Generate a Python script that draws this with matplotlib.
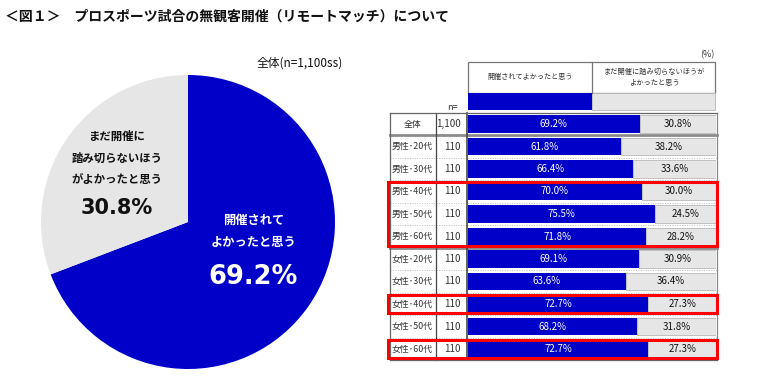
import matplotlib.pyplot as plt
from matplotlib.patches import Rectangle

plt.rcParams['font.family'] = ['Noto Sans CJK JP', 'DejaVu Sans']

# ---- data ----
title = '＜図１＞　プロスポーツ試合の無観客開催（リモートマッチ）について'
pie_title = '全体(n=1,100ss)'
answers = ['開催されて\nよかったと思う', 'まだ開催に\n踏み切らないほう\nがよかったと思う']
header_labels = ['開催されてよかったと思う', 'まだ開催に踏み切らないほうが\nよかったと思う']
pie_values = [69.2, 30.8]

groups = ['全体', '男性･20代', '男性･30代', '男性･40代', '男性･50代', '男性･60代',
          '女性･20代', '女性･30代', '女性･40代', '女性･50代', '女性･60代']
n_values = ['1,100', '110', '110', '110', '110', '110', '110', '110', '110', '110', '110']
yes_pct = [69.2, 61.8, 66.4, 70.0, 75.5, 71.8, 69.1, 63.6, 72.7, 68.2, 72.7]
no_pct = [30.8, 38.2, 33.6, 30.0, 24.5, 28.2, 30.9, 36.4, 27.3, 31.8, 27.3]
highlight = [(3, 5), (8, 8), (10, 10)]   # row ranges framed in red
separators = [0, 5]                        # thick line after these rows

BLUE = '#0000C8'
GREY = '#E6E6E6'
W, H = 760, 382


def px(x0, y0, x1, y1):
    # pixel box (top-left origin) -> figure fraction rect
    return [x0 / W, 1 - y1 / H, (x1 - x0) / W, (y1 - y0) / H]


fig = plt.figure(figsize=(7.6, 3.82), dpi=100)

# ==========================
# pie
# ==========================
axp = fig.add_axes(px(41, 75, 335, 369))
axp.pie(pie_values, colors=[BLUE, GREY], startangle=90, counterclock=False,
        wedgeprops=dict(linewidth=0))
axp.set_xlim(-1, 1)
axp.set_ylim(-1, 1)
axp.set_aspect('equal')

# ==========================
# bar table
# ==========================
BX0, BX1 = 468, 716


def fx(p):
    # pixel x -> bar axes fraction
    return (p - BX0) / (BX1 - BX0)


axb = fig.add_axes(px(BX0, 112.75, BX1, 360.25))
rows = list(range(len(groups)))
axb.barh(rows, yes_pct, height=0.76, color=BLUE, linewidth=0)
axb.barh(rows, no_pct, left=yes_pct, height=0.76, color=GREY,
         edgecolor='#B8B8B8', linewidth=0.6)
axb.set_xlim(0, 100)
axb.set_ylim(len(groups) - 0.5, -0.5)
axb.axis('off')

tr = axb.get_yaxis_transform()
for i in rows:
    axb.text(yes_pct[i] / 2, i, f'{yes_pct[i]:.1f}%', color='white',
             ha='center', va='center', fontsize=7)
    axb.text(yes_pct[i] + no_pct[i] / 2, i, f'{no_pct[i]:.1f}%', color='#111111',
             ha='center', va='center', fontsize=7)
    axb.text(fx(412.5), i, groups[i], transform=tr, ha='center', va='center',
             fontsize=6.4, color='#333333')
    axb.text(fx(461), i, n_values[i], transform=tr, ha='right', va='center',
             fontsize=7, color='#333333')

# row lines
for i in rows[:-1]:
    if i in separators:
        axb.plot([fx(390), fx(717)], [i + 0.5, i + 0.5], transform=tr,
                 color='#8C8C8C', lw=2, clip_on=False)
    else:
        axb.plot([fx(390), fx(717)], [i + 0.5, i + 0.5], transform=tr,
                 color='#BBBBBB', lw=0.7, ls=(0, (1, 1.5)), clip_on=False)

top, bot = -0.5, len(groups) - 0.5
for xpix, lw, c in [(390, 0.9, '#666666'), (436, 0.9, '#444444'),
                    (467, 1.2, '#444444'), (717, 0.9, '#888888')]:
    axb.plot([fx(xpix), fx(xpix)], [top, bot], transform=tr, color=c, lw=lw,
             clip_on=False)
axb.plot([fx(390), fx(717)], [top, top], transform=tr, color='#666666', lw=0.9,
         clip_on=False)
axb.plot([fx(390), fx(717)], [bot, bot], transform=tr, color='#666666', lw=0.9,
         clip_on=False)

for r0, r1 in highlight:
    axb.add_patch(Rectangle((fx(388), r0 - 0.42), fx(717) - fx(388), r1 - r0 + 0.84,
                            transform=tr, fill=False, edgecolor='#FF0000', lw=2.2,
                            clip_on=False, zorder=5))

# ==========================
# overlay: titles, header, pie labels
# ==========================
ov = fig.add_axes([0, 0, 1, 1], facecolor='none')
ov.set_xlim(0, W)
ov.set_ylim(H, 0)
ov.axis('off')

ov.text(5, 17, title, fontsize=10, fontweight='bold', ha='left', va='center',
        color='#111111')
ov.text(300, 63, pie_title, fontsize=8.5, ha='center', va='center', color='#111111')

# pie labels
ov.text(254, 231.5, answers[0], fontsize=8.8, fontweight='bold', color='white',
        ha='center', va='center', linespacing=1.85)
ov.text(253, 277, f'{pie_values[0]:.1f}%', fontsize=18.5, fontweight='bold',
        color='white', ha='center', va='center', family='DejaVu Sans')
ov.text(117, 158, answers[1], fontsize=8.2, fontweight='bold', color='#111111',
        ha='center', va='center', linespacing=1.85)
ov.text(117, 208, f'{pie_values[1]:.1f}%', fontsize=15, fontweight='bold',
        color='#111111', ha='center', va='center', family='DejaVu Sans')

# header box
ov.add_patch(Rectangle((468, 62), 247, 31, fill=False, edgecolor='#777777', lw=0.9))
ov.plot([592, 592], [62, 93], color='#777777', lw=0.9)
ov.text(530, 77, header_labels[0], fontsize=5.1, ha='center', va='center', color='#333333')
ov.text(654, 77, header_labels[1], fontsize=5.2, ha='center', va='center',
        color='#333333', linespacing=1.5)
ov.add_patch(Rectangle((468, 93), 124, 17, facecolor=BLUE, edgecolor='none'))
ov.add_patch(Rectangle((592, 93), 123, 17, facecolor=GREY, edgecolor='#B8B8B8', lw=0.6))
ov.text(452, 108, 'n=', fontsize=6.5, ha='center', va='center', color='#333333')
ov.text(707, 55, '(%)', fontsize=6.5, ha='center', va='center', color='#333333')

fig.savefig('out.png', dpi=100)
